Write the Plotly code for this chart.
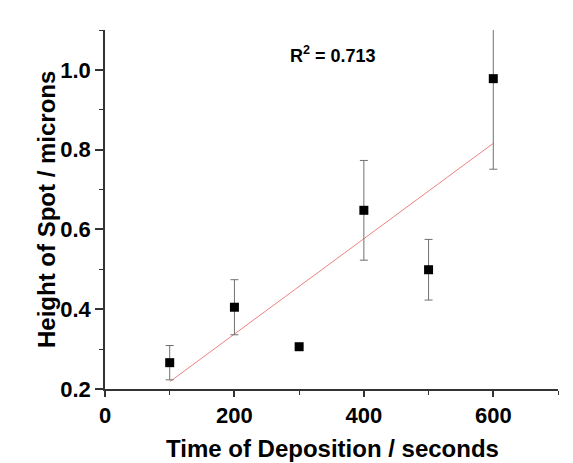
import numpy as np
import plotly.graph_objects as go

# Data
time_s = [100, 200, 300, 400, 500, 600]
height_um = [0.266, 0.405, 0.306, 0.648, 0.499, 0.978]
height_err = [0.043, 0.069, 0.0, 0.125, 0.076, 0.227]
r2_text = "R<sup>2</sup> = 0.713"
x_title = "Time of Deposition / seconds"
y_title = "Height of Spot / microns"

x_tickvals = [0, 200, 400, 600]
y_tickvals = [0.2, 0.4, 0.6, 0.8, 1.0]

# Linear regression line through the data
slope, intercept = np.polyfit(time_s, height_um, 1)
fit_x = [min(time_s), max(time_s)]
fit_y = [slope * v + intercept for v in fit_x]

FONT = "Liberation Sans, Arial, sans-serif"
AXC = "#333333"

W, H = 573, 463
ml, mr, mt, mb = 105, 15, 30, 74
pw, ph = W - ml - mr, H - mt - mb


def px(xp):
    return (xp - ml) / pw


def py(yp):
    return (H - mb - yp) / ph


fig = go.Figure()
fig.add_trace(go.Scatter(
    x=fit_x, y=fit_y, mode="lines",
    line=dict(color="#ee8080", width=1),
    showlegend=False, hoverinfo="skip",
))
fig.add_trace(go.Scatter(
    x=time_s, y=height_um, mode="markers",
    marker=dict(symbol="square", size=9, color="black"),
    error_y=dict(type="data", array=height_err, visible=True,
                 color="#707070", thickness=1, width=4),
    showlegend=False,
))

fig.add_annotation(
    x=px(333), y=py(54), xref="paper", yref="paper",
    text="<b>" + r2_text + "</b>", showarrow=False,
    xanchor="center", yanchor="middle",
    font=dict(family=FONT, size=18, color="black"),
)
fig.add_annotation(
    x=px(332.5), y=py(448), xref="paper", yref="paper",
    text="<b>" + x_title + "</b>", showarrow=False,
    xanchor="center", yanchor="middle",
    font=dict(family=FONT, size=24, color="black"),
)
fig.add_annotation(
    x=px(46), y=py(210), xref="paper", yref="paper",
    text="<b>" + y_title + "</b>", showarrow=False, textangle=-90,
    xanchor="center", yanchor="middle",
    font=dict(family=FONT, size=24, color="black"),
)

fig.update_layout(
    width=W, height=H,
    margin=dict(l=ml, r=mr, t=mt, b=mb, autoexpand=False),
    paper_bgcolor="white", plot_bgcolor="white",
    font=dict(family=FONT, color="black"),
    xaxis=dict(
        range=[0, 700], tickvals=x_tickvals, ticktext=[str(v) for v in x_tickvals],
        showgrid=False, zeroline=False, showline=True, linecolor=AXC, linewidth=1.5,
        ticks="outside", ticklen=6, tickwidth=1.5, tickcolor=AXC, automargin=False,
        tickfont=dict(family=FONT, size=22, color="black", weight="bold"),
        minor=dict(dtick=100, tick0=0, ticks="outside", ticklen=4, tickwidth=1.2,
                   tickcolor=AXC, showgrid=False),
    ),
    yaxis=dict(
        range=[0.2, 1.1], tickvals=y_tickvals, ticktext=[f"{v:.1f}" for v in y_tickvals],
        showgrid=False, zeroline=False, showline=True, linecolor=AXC, linewidth=1.5,
        ticks="outside", ticklen=8, tickwidth=1.5, tickcolor=AXC, automargin=False,
        tickfont=dict(family=FONT, size=22, color="black", weight="bold"),
        minor=dict(dtick=0.1, tick0=0.2, ticks="outside", ticklen=4, tickwidth=1.2,
                   tickcolor=AXC, showgrid=False),
    ),
)

fig.write_html("out.html")
